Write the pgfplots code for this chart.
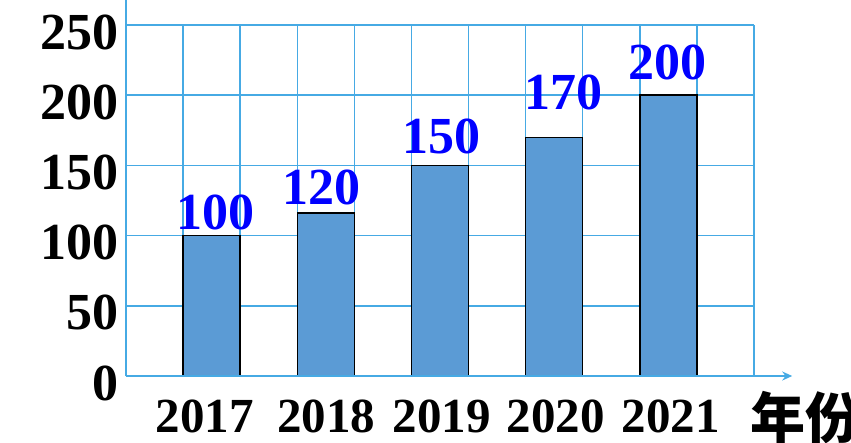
\documentclass[border=0pt]{standalone}
\usepackage{fontspec}
\setmainfont{Liberation Serif}
\newfontfamily\cjk{Noto Sans CJK SC}
\usepackage{pgfplots}
\pgfplotsset{compat=1.18}
\usepackage{pgfplotstable}
\usetikzlibrary{arrows.meta}
\definecolor{gridblue}{RGB}{70,170,228}
\definecolor{barblue}{RGB}{91,155,213}
\definecolor{labblue}{RGB}{0,0,255}

\pgfplotstableread{
x y
1.5 100
3.5 116
5.5 150
7.5 170
9.5 200
}\bars
\pgfplotstableread{
x y label
1.56 104 100
3.42 121.8 120
5.53 158 150
7.66 189.5 170
9.49 210.8 200
}\labels

\begin{document}
\begin{tikzpicture}
\useasboundingbox (-126pt,-66pt) rectangle (725pt,376pt);
\begin{axis}[
 at={(0,0)}, anchor=south west,
 scale only axis, width=628pt, height=351pt,
 xmin=0,xmax=11,ymin=0,ymax=250,
 axis line style={draw=none},
 xmajorgrids=true, ymajorgrids=true,
 major tick style={draw=none},
 xtick={0,1,...,11}, xticklabels={},
 ytick={0,50,...,250}, yticklabels={0,50,100,150,200,250},
 yticklabel style={font=\bfseries\fontsize{52}{52}\selectfont, anchor=east, inner sep=0pt, xshift=-7pt, yshift=-7pt},
 extra x ticks={1.38,3.51,5.53,7.53,9.54},
 extra x tick labels={2017,2018,2019,2020,2021},
 extra x tick style={grid=none, xticklabel style={font=\bfseries\fontsize{49}{49}\selectfont, anchor=base, inner sep=0pt, yshift=-56pt}},
 clip=false,
]
\pgfplotsset{every axis grid/.style={draw=gridblue, line width=1.5pt}, major grid style={draw=gridblue, line width=1.5pt}}
\addplot[ybar, bar width=1, bar shift=0pt, fill=barblue, draw=black, line width=1.5pt] table[x=x,y=y]{\bars};
\addplot[draw=none, mark=none, nodes near coords, point meta=explicit symbolic,
  every node near coord/.append style={font=\bfseries\fontsize{52}{52}\selectfont, text=labblue, anchor=south, inner sep=0pt}]
  table[x=x,y=y,meta=label]{\labels};
\draw[gridblue, line width=1.6pt] (axis cs:0,0) -- (axis cs:0,268);
\draw[gridblue, line width=1.6pt, -{Stealth[length=10pt,width=9pt]}] (axis cs:0,0) -- (axis cs:11.67,0);
\node[font=\cjk\bfseries\fontsize{55}{55}\selectfont, anchor=base west, inner sep=0pt] at (axis cs:10.93,-44.2) {年份};
\end{axis}
\end{tikzpicture}
\end{document}
